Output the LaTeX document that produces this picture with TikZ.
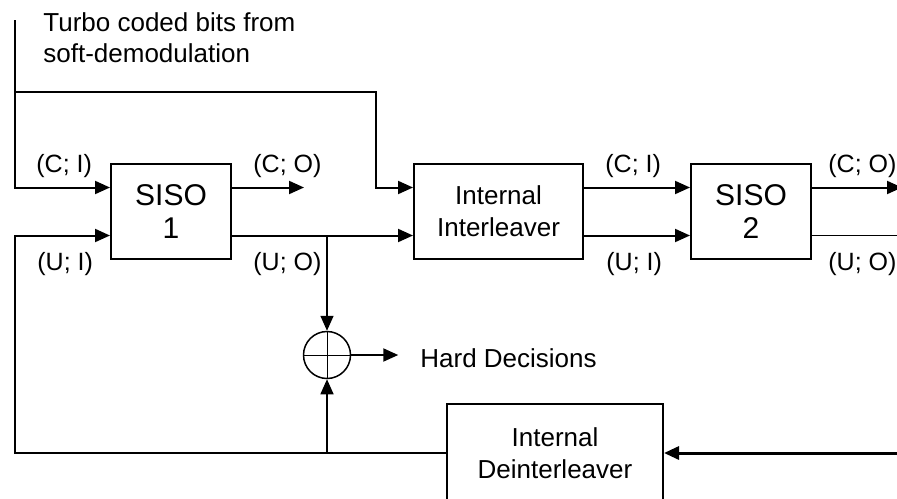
\documentclass[tikz,border=0pt]{standalone}
\usepackage{fontspec}
\setmainfont{Liberation Sans}
\usetikzlibrary{arrows.meta, positioning, calc}
\tikzset{
  % Generic decoder block with optional width (default 60pt)
  blk/.style={
    rectangle, draw, line width=1pt,
    align=center, font=\fontsize{13}{16}\selectfont,
    minimum width=#1, minimum height=47.5pt, inner sep=0pt
  },
  blk/.default=60pt,
  siso/.style={blk=60pt, font=\fontsize{15}{16.5}\selectfont},
  adder/.style={circle, draw, line width=0.75pt, minimum size=23.5pt, inner sep=0pt},
  lbl/.style={anchor=base west, inner sep=0pt, font=\fontsize{12.5}{15}\selectfont},
  txt/.style={inner sep=0pt, align=left, font=\fontsize{13}{15.5}\selectfont},
  arr/.style={-{Triangle[length=7.5pt,width=6.5pt]}, line width=1pt},
  wire/.style={line width=1pt}
}

\begin{document}
\begin{tikzpicture}[x=0.5pt, y=-0.5pt]
  \clip (0,0) rectangle (897,498);

  %% ── Decoder row ────────────────────────────────────────────────────────
  \node[siso] (siso1) at (171,211.5) {SISO\\1};
  \node[blk=84.5pt, right=90.5pt of siso1] (intl) {Internal\\Interleaver};
  \node[siso, right=53pt of intl] (siso2) {SISO\\2};

  % ports (C = upper, U = lower)
  \coordinate (s1ci) at ([yshift=12pt]siso1.west);
  \coordinate (s1ui) at ([yshift=-12pt]siso1.west);
  \coordinate (s1co) at ([yshift=12pt]siso1.east);
  \coordinate (s1uo) at ([yshift=-12pt]siso1.east);
  \coordinate (ilci) at ([yshift=12pt]intl.west);
  \coordinate (ilui) at ([yshift=-12pt]intl.west);
  \coordinate (ilco) at ([yshift=12pt]intl.east);
  \coordinate (iluo) at ([yshift=-12pt]intl.east);
  \coordinate (s2ci) at ([yshift=12pt]siso2.west);
  \coordinate (s2ui) at ([yshift=-12pt]siso2.west);
  \coordinate (s2co) at ([yshift=12pt]siso2.east);
  \coordinate (s2uo) at ([yshift=-12pt]siso2.east);

  %% ── Feedback row ───────────────────────────────────────────────────────
  % deinterleaver runs off the bottom edge, as in the original
  \node[blk=108pt, minimum height=49pt] (dint) at (555,453) {Internal\\Deinterleaver};
  \node[adder] (add) at (327,355) {};
  \draw[line width=0.5pt] (add.north) -- (add.south) (add.west) -- (add.east);

  %% ── Channel input ──────────────────────────────────────────────────────
  \coordinate (src) at (15,20);
  \coordinate (tap) at (15,92);
  \node[txt, anchor=north west] (srctxt) at (43,12)
    {Turbo coded bits from\\soft-demodulation};

  \draw[arr] (src) |- (s1ci);
  \draw[arr] (tap) -- ++(361,0) |- (ilci);

  %% ── Arrows ─────────────────────────────────────────────────────────────
  \draw[arr] (s1co) -- ++(72,0);
  \draw[arr] (s1uo) -- (ilui);
  \draw[arr] (ilco) -- (s2ci);
  \draw[arr] (iluo) -- (s2ui);
  \draw[arr] (s2co) -- ++(90,0);
  \draw[line width=0.5pt] (s2uo) -- ++(95,0);

  \coordinate (rin) at (897,453);
  \draw[arr, line width=1.5pt] (rin) -- (dint.east);
  \draw[arr] (dint.west) -- (dint.west -| tap) |- (s1ui);

  \draw[arr, line width=0.75pt] (s1uo -| add) -- (add.north);
  \draw[arr, line width=0.75pt] (dint.west -| add) -- (add.south);
  \draw[arr] (add.east) -- ++(47,0);
  \node[lbl, font=\fontsize{13}{16}\selectfont] (hard) at (420,367) {Hard Decisions};

  %% ── Port labels ────────────────────────────────────────────────────────
  \node[lbl] (l1ci) at (36,172)  {(C; I)};
  \node[lbl] (l1ui) at (37,270)  {(U; I)};
  \node[lbl] (l1co) at (253,172) {(C; O)};
  \node[lbl] (l1uo) at (253,270) {(U; O)};
  \node[lbl] (l2ci) at (605,172) {(C; I)};
  \node[lbl] (l2ui) at (606,270) {(U; I)};
  \node[lbl] (l2co) at (828,172) {(C; O)};
  \node[lbl] (l2uo) at (828,270) {(U; O)};

\end{tikzpicture}
\end{document}
